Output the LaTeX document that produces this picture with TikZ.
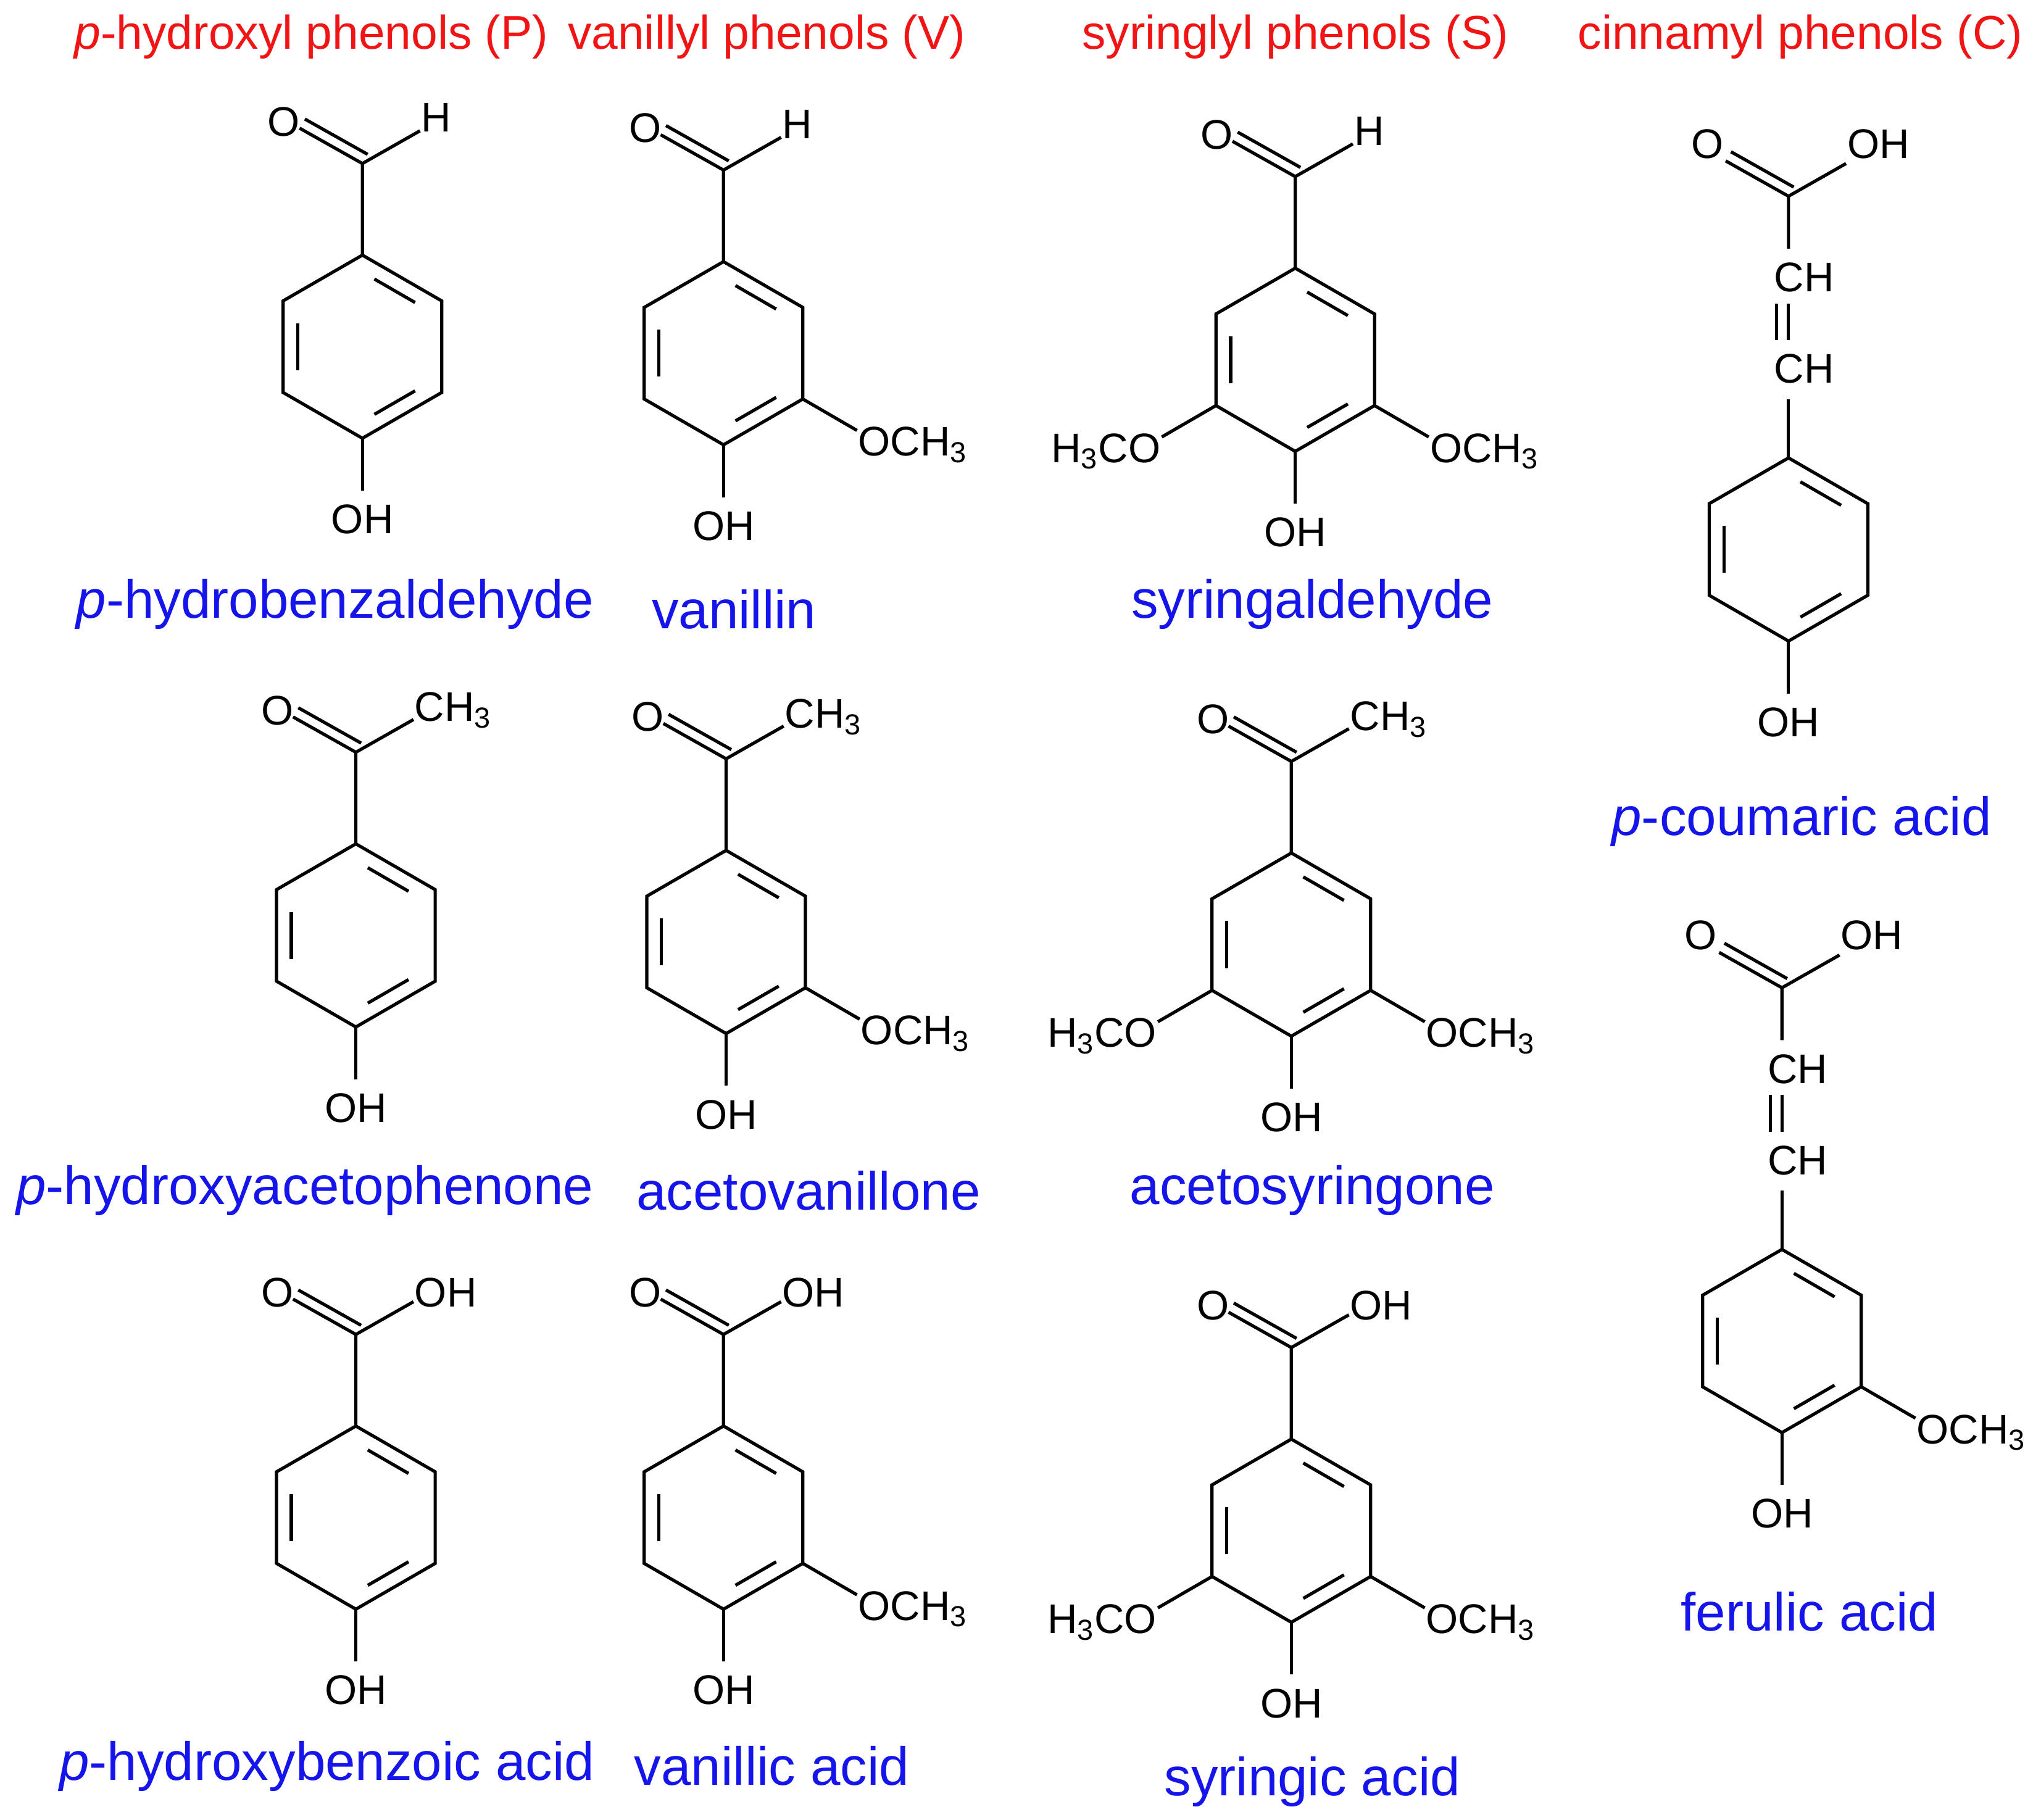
\documentclass[tikz,border=0pt]{standalone}
\usepackage{fontspec}
\setmainfont{Liberation Sans}
\definecolor{tblue}{RGB}{20,20,235}
\definecolor{tred}{RGB}{240,20,20}
\begin{document}
\begin{tikzpicture}[x=0.02cm,y=-0.02cm,line width=1.4pt,
  atom/.style={font=\fontsize{18}{20}\selectfont,inner sep=1pt},
  cname/.style={font=\fontsize{23.4}{26}\selectfont,text=tblue,inner sep=0pt},
  title/.style={font=\fontsize{20.6}{23}\selectfont,text=tred,inner sep=0pt},
  ring/.pic={\draw (90:70)--(30:70)--(-30:70)--(-90:70)--(-150:70)--(150:70)--cycle;
    \draw[shorten <=6pt,shorten >=6pt] (150:57)--(210:57);
    \draw[shorten <=6pt,shorten >=6pt] (-90:57)--(-30:57);
    \draw[shorten <=6pt,shorten >=6pt] (30:57)--(90:57);},
  co/.pic={\draw (0,-70)--(0,-140) (0,-140)--(-48,-167) (4,-147)--(-44,-174) (0,-140)--(44,-165);
    \node[atom] at (-60,-172) {O};},
  ald/.pic={\pic {co}; \node[atom,anchor=west] at (42,-175) {H};},
  ket/.pic={\pic {co}; \node[atom,anchor=west] at (42,-172) {CH\textsubscript{3}};},
  acid/.pic={\pic {co}; \node[atom,anchor=west] at (42,-172) {OH};},
  oh/.pic={\draw (0,70)--(0,110); \node[atom] at (0,132) {OH};},
  rmeo/.pic={\draw (60.6,35)--(102,59); \node[atom,anchor=west] at (100,70) {OCH\textsubscript{3}};},
  lmeo/.pic={\draw (-60.6,35)--(-102,59); \node[atom,anchor=east] at (-100,70) {H\textsubscript{3}CO};},
  cinn/.pic={\draw (0,-70)--(0,-115); \node[atom] at (12,-138) {CH};
    \draw (0,-160)--(0,-188) (-9,-160)--(-9,-188); \node[atom] at (12,-208) {CH};
    \draw (0,-230)--(0,-270) (0,-270)--(-48,-297) (4,-277)--(-44,-304) (0,-270)--(44,-295);
    \node[atom] at (-62,-310) {O}; \node[atom,anchor=west] at (42,-310) {OH};}
]
\useasboundingbox (0,0) rectangle (1560,1391);
% titles
\node[title] (t1) at (238,28) {\textit{p}-hydroxyl phenols (P)};
\node[title] (t2) at (586,28) {vanillyl phenols (V)};
\node[title] (t3) at (990,28) {syringlyl phenols (S)};
\node[title] (t4) at (1376,28) {cinnamyl phenols (C)};
% row 1
\pic at (277,265) {ring}; \pic at (277,265) {ald}; \pic at (277,265) {oh};
\pic at (553,270) {ring}; \pic at (553,270) {ald}; \pic at (553,270) {oh}; \pic at (553,270) {rmeo};
\pic at (990,275) {ring}; \pic at (990,275) {ald}; \pic at (990,275) {oh}; \pic at (990,275) {rmeo}; \pic at (990,275) {lmeo};
\node[cname] (n1) at (256,462) {\textit{p}-hydrobenzaldehyde};
\node[cname] (n2) at (561,466) {vanillin};
\node[cname] (n3) at (1003,462) {syringaldehyde};
% row 2
\pic at (272,715) {ring}; \pic at (272,715) {ket}; \pic at (272,715) {oh};
\pic at (555,720) {ring}; \pic at (555,720) {ket}; \pic at (555,720) {oh}; \pic at (555,720) {rmeo};
\pic at (987,722) {ring}; \pic at (987,722) {ket}; \pic at (987,722) {oh}; \pic at (987,722) {rmeo}; \pic at (987,722) {lmeo};
\node[cname] (n4) at (233,910) {\textit{p}-hydroxyacetophenone};
\node[cname] (n5) at (618,910) {acetovanillone};
\node[cname] (n6) at (1003,910) {acetosyringone};
% row 3
\pic at (272,1160) {ring}; \pic at (272,1160) {acid}; \pic at (272,1160) {oh};
\pic at (553,1160) {ring}; \pic at (553,1160) {acid}; \pic at (553,1160) {oh}; \pic at (553,1160) {rmeo};
\pic at (987,1170) {ring}; \pic at (987,1170) {acid}; \pic at (987,1170) {oh}; \pic at (987,1170) {rmeo}; \pic at (987,1170) {lmeo};
\node[cname] (n7) at (250,1350) {\textit{p}-hydroxybenzoic acid};
\node[cname] (n8) at (590,1350) {vanillic acid};
\node[cname] (n9) at (1003,1362) {syringic acid};
% cinnamyl
\pic at (1367,420) {ring}; \pic at (1367,420) {cinn}; \pic at (1367,420) {oh};
\node[cname] (n10) at (1377,628) {\textit{p}-coumaric acid};
\pic at (1362,1025) {ring}; \pic at (1362,1025) {cinn}; \pic at (1362,1025) {oh}; \pic at (1362,1025) {rmeo};
\node[cname] (n11) at (1383,1232) {ferulic acid};
\end{tikzpicture}
\end{document}
